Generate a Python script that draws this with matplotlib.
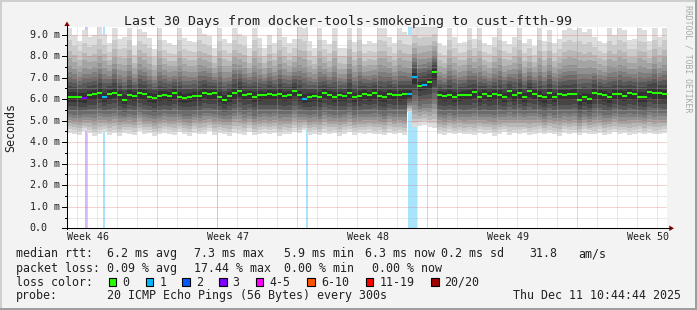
"""SmokePing 30-day latency graph (rrdtool look-alike) rebuilt with matplotlib."""

import numpy as np
import matplotlib

matplotlib.use("Agg")
import matplotlib.pyplot as plt
from matplotlib.lines import Line2D
from matplotlib.patches import Polygon, Rectangle

W, H = 697, 310
MONO = "DejaVu Sans Mono"

# --- data -----------------------------------------------------------------
STEP = 0.25  # days per column (6 h)
MEDIAN = [
    6.12, 6.12, 6.10, 6.05, 6.20, 6.25, 6.30, 6.10, 6.25, 6.30, 6.20, 5.97, 6.20, 6.15, 6.28, 6.22, 6.10, 6.07, 6.15, 6.20,
    6.15, 6.30, 6.12, 6.05, 6.10, 6.15, 6.15, 6.30, 6.22, 6.28, 6.10, 5.98, 6.15, 6.27, 6.38, 6.20, 6.25, 6.12, 6.18, 6.20,
    6.22, 6.20, 6.25, 6.15, 6.20, 6.40, 6.18, 6.02, 6.10, 6.15, 6.12, 6.30, 6.20, 6.10, 6.18, 6.15, 6.30, 6.12, 6.15, 6.25,
    6.18, 6.30, 6.15, 6.10, 6.25, 6.20, 6.18, 6.22, 6.22, 7.05, 6.62, 6.68, 6.78, 7.25, 6.20, 6.15, 6.20, 6.12, 6.18, 6.20,
    6.20, 6.35, 6.12, 6.25, 6.15, 6.22, 6.20, 6.12, 6.38, 6.18, 6.28, 6.12, 6.38, 6.25, 6.15, 6.08, 6.28, 6.12, 6.25, 6.20,
    6.22, 6.25, 5.95, 6.10, 6.02, 6.30, 6.25, 6.20, 6.08, 6.25, 6.22, 6.15, 6.30, 6.22, 6.10, 6.10, 6.35, 6.30, 6.28, 6.22,
]
TOP = [  # slowest of the 20 pings
    9.30, 9.00, 8.70, 9.20, 8.90, 9.00, 9.35, 9.05, 8.60, 9.30, 8.80, 8.90, 9.30, 8.45, 9.25, 9.10, 8.85, 8.35, 9.30, 8.75,
    8.60, 8.50, 9.30, 8.85, 8.70, 8.65, 9.30, 9.05, 8.95, 8.40, 9.30, 8.80, 8.60, 9.30, 9.05, 8.95, 8.40, 9.30, 8.85, 8.40,
    9.00, 8.60, 9.30, 8.90, 8.60, 8.80, 9.35, 9.30, 8.70, 8.40, 9.30, 8.75, 8.55, 9.30, 8.40, 8.40, 9.30, 8.65, 9.30, 8.55,
    8.70, 8.60, 9.30, 9.30, 8.90, 8.60, 9.30, 9.10, 9.00, 9.40, 9.35, 9.35, 9.35, 9.40, 8.60, 8.45, 9.30, 8.90, 8.60, 8.65,
    9.30, 8.80, 9.30, 8.60, 8.50, 8.90, 9.30, 8.70, 8.55, 8.90, 9.30, 8.60, 8.80, 8.45, 9.30, 8.70, 9.20, 8.60, 8.80, 9.20,
    9.30, 9.20, 9.30, 9.10, 9.25, 8.90, 8.70, 8.60, 9.30, 9.00, 9.30, 9.20, 8.75, 8.80, 9.30, 9.20, 8.70, 9.30, 8.90, 9.30,
]
BOTTOM = [  # fastest of the 20 pings
    4.45, 4.40, 4.35, 4.50, 4.42, 4.30, 4.38, 4.48, 4.35, 4.42, 4.30, 4.45, 4.40, 4.33, 4.50, 4.38, 4.42, 4.30, 4.36, 4.45,
    4.40, 4.32, 4.46, 4.38, 4.30, 4.44, 4.36, 4.40, 4.50, 4.33, 4.42, 4.38, 4.30, 4.45, 4.40, 4.35, 4.48, 4.32, 4.40, 4.44,
    4.38, 4.45, 4.30, 4.40, 4.36, 4.48, 4.42, 4.55, 4.35, 4.40, 4.32, 4.45, 4.38, 4.42, 4.30, 4.40, 4.46, 4.35, 4.42, 4.38,
    4.44, 4.36, 4.40, 4.32, 4.45, 4.38, 4.42, 4.35, 5.40, 4.70, 4.75, 4.80, 4.70, 4.65, 4.40, 4.35, 4.44, 4.38, 4.42, 4.36,
    4.40, 4.34, 4.45, 4.38, 4.42, 4.30, 4.40, 4.46, 4.35, 4.42, 4.38, 4.44, 4.32, 4.40, 4.45, 4.36, 4.42, 4.38, 4.30, 4.44,
    4.38, 4.42, 4.35, 4.45, 4.40, 4.36, 4.44, 4.32, 4.40, 4.46, 4.38, 4.42, 4.35, 4.40, 4.45, 4.38, 4.42, 4.36, 4.40, 4.44,
]
LOSS_COLS = [3, 7, 47, 68, 69, 71]   # columns whose median had lost pings
LOSS_PINGS = [3, 1, 1, 1, 1, 1]

# loss background bars (days from graph start)
BAR_START = [0.90, 0.975, 1.80, 7.50, 11.93, 17.05, 18.00]
BAR_END = [0.975, 1.05, 1.90, 7.55, 12.03, 17.50, 18.05]
BAR_PINGS = [3, 1, 1, 1, 1, 1, 1]

WEEK_TICKS = [1.05, 8.05, 15.05, 22.05, 29.05]
WEEK_LABELS = ["Week 46", "Week 47", "Week 48", "Week 49", "Week 50"]

LEGEND_LABELS = ["0", "1", "2", "3", "4-5", "6-10", "11-19", "20/20"]
LEGEND_COLORS = ["#26ff00", "#00b8ff", "#0059ff", "#7e00ff", "#ff00ff", "#ff5500", "#ff0000", "#a10000"]

# --- style ----------------------------------------------------------------
X0, X1, Y0, Y1 = 67, 667, 228.3, 27.3     # canvas in pixels
YMAX = 9.34
UP_FRAC = [0.07, 0.15, 0.22, 0.29, 0.36, 0.45, 0.56, 0.67, 0.82, 1.0]
DN_FRAC = [0.14, 0.26, 0.37, 0.49, 0.57, 0.66, 0.74, 0.83, 0.91, 1.0]
BAR_COLORS = {1: "#a8e4fc", 3: "#d8b6fa"}


def loss_color(n):
    if n == 0:
        return LEGEND_COLORS[0]
    if n <= 3:
        return LEGEND_COLORS[n]
    if n <= 5:
        return LEGEND_COLORS[4]
    if n <= 10:
        return LEGEND_COLORS[5]
    if n <= 19:
        return LEGEND_COLORS[6]
    return LEGEND_COLORS[7]


def fx(px):
    return px / W


def fy(py):
    return 1 - py / H


fig = plt.figure(figsize=(W / 100, H / 100), dpi=100, facecolor="#f3f3f3")

# 3d-ish frame
fig.add_artist(Rectangle((0, fy(2)), 1, 2 / H, transform=fig.transFigure, color="#cfcfcf", lw=0))
fig.add_artist(Rectangle((0, 0), 2 / W, 1, transform=fig.transFigure, color="#cfcfcf", lw=0))
fig.add_artist(Rectangle((0, 0), 1, 2 / H, transform=fig.transFigure, color="#9e9e9e", lw=0))
fig.add_artist(Rectangle((fx(W - 2), 0), 2 / W, 1, transform=fig.transFigure, color="#9e9e9e", lw=0))

ax = fig.add_axes([fx(X0), fy(Y0), (X1 - X0) / W, (Y0 - Y1) / H])
ax.set_xlim(0, 30)
ax.set_ylim(0, YMAX)
ax.set_facecolor("white")
for s in ax.spines.values():
    s.set_visible(False)
ax.set_xticks([])
ax.set_yticks([])

med = np.array(MEDIAN)
top = np.array(TOP)
bot = np.array(BOTTOM)
loss = np.zeros(len(med), dtype=int)
loss[LOSS_COLS] = LOSS_PINGS
edges = np.arange(len(med) + 1) * STEP


def ext(a):
    return np.append(a, a[-1])


# loss bars behind the smoke
for s, e, n in zip(BAR_START, BAR_END, BAR_PINGS):
    ax.axvspan(s, e, color=BAR_COLORS[n], lw=0, zorder=1)

# smoke: nested bands, lightest outside, darkest around the median
for i in range(10):
    g = (int(190 / 10 * (9 - i)) + 50) / 255
    lo = med - (med - bot) * DN_FRAC[9 - i]
    hi = med + (top - med) * UP_FRAC[9 - i]
    ax.fill_between(edges, ext(lo), ext(hi), step="post", color=(g, g, g),
                    lw=0, antialiased=False, zorder=2)

# grid over the smoke
dots = (0, (1, 1))
for v in np.arange(0.5, YMAX, 1.0):
    ax.axhline(v, color="#b8b8b8", alpha=0.6, lw=0.72, ls=dots, zorder=3)
for v in range(1, 10):
    ax.axhline(v, color="#e06060", alpha=0.55, lw=0.72, ls=dots, zorder=3)
for d in np.arange(0.5, 30, 1.0):
    major = (d - 4.5) % 7 == 0
    ax.axvline(d, color="#e06060" if major else "#b8b8b8", alpha=0.55 if major else 0.6,
               lw=0.72, ls=dots, zorder=3)

# median, coloured by loss
ax.hlines(med, edges[:-1], edges[1:], colors=[loss_color(n) for n in loss], lw=1.5, zorder=4)

# axes with rrdtool arrows
fig.add_artist(Line2D([fx(X0), fx(X0)], [fy(Y0 + 0.5), fy(25)], transform=fig.transFigure,
                      color="black", lw=0.75))
fig.add_artist(Line2D([fx(62.5), fx(670)], [fy(Y0), fy(Y0)], transform=fig.transFigure,
                      color="black", lw=0.75))
fig.add_artist(Polygon([(fx(64.3), fy(26)), (fx(69.7), fy(26)), (fx(67), fy(21.5))],
                       transform=fig.transFigure, color="#8b0000", lw=0))
fig.add_artist(Polygon([(fx(669.3), fy(225.5)), (fx(669.3), fy(231)), (fx(674), fy(228.3))],
                       transform=fig.transFigure, color="#8b0000", lw=0))

# y tick marks and labels
ytr = ax.get_yaxis_transform()
for v in range(10):
    ax.plot([-5 / 600, 0], [v, v], transform=ytr, color="black", lw=0.72, clip_on=False, zorder=5)
    ax.text(-(X0 - 29.5) / 600, v, "0.0" if v == 0 else f"{v}.0 m", transform=ytr,
            ha="left", va="center", family=MONO, fontsize=7.2, color="#222222")
for v in np.arange(0.5, YMAX, 1.0):
    ax.plot([-2 / 600, 0], [v, v], transform=ytr, color="black", lw=0.72, clip_on=False, zorder=5)

xtr = ax.get_xaxis_transform()
for d, lab in zip(WEEK_TICKS, WEEK_LABELS):
    ax.text(d, -(237.3 - Y0) / (Y0 - Y1), lab, transform=xtr, ha="center", va="center",
            family=MONO, fontsize=7.2, color="#222222")

# titles
fig.text(0.5, fy(24.5), "Last 30 Days from docker-tools-smokeping to cust-ftth-99",
         ha="center", va="baseline", family=MONO, fontsize=9.55, color="#222222")
fig.text(fx(10.5), fy(Y0 - (Y0 - Y1) / 2), "Seconds", rotation=90, ha="center", va="center",
         family=MONO, fontsize=8.4, color="#222222")
fig.text(fx(688), fy(59), "RRDTOOL / TOBI OETIKER", rotation=-90, ha="center", va="center",
         family=MONO, fontsize=5.9, color="#a8a8a8")

# legend
LEG = dict(family=MONO, fontsize=8.4, color="#222222", ha="left", va="baseline")
rows = [
    (257.3, [(16, "median rtt:"), (107, "6.2 ms avg"), (194, "7.3 ms max"), (284.5, "5.9 ms min"),
             (364.6, "6.3 ms now"), (441.3, "0.2 ms sd"), (529.6, "31.8"), (578.6, "am/s")]),
    (271.7, [(16, "packet loss:"), (107, "0.09 % avg"), (194, "17.44 % max"),
             (284.5, "0.00 % min"), (372.3, "0.00 % now")]),
    (299.3, [(16, "probe:"), (107, "20 ICMP Echo Pings (56 Bytes) every 300s"),
             (513, "Thu Dec 11 10:44:44 2025")]),
]
for yb, items in rows:
    for xp, t in items:
        fig.text(fx(xp), fy(yb), t, **LEG)

fig.text(fx(16), fy(285.7), "loss color:", **LEG)
box_x = [108.7, 145.7, 182.3, 219, 255.7, 307.3, 365.7, 431]
for bx, lab, col in zip(box_x, LEGEND_LABELS, LEGEND_COLORS):
    fig.add_artist(Rectangle((fx(bx), fy(285.7)), 7.5 / W, 8 / H, transform=fig.transFigure,
                             facecolor=col, edgecolor="black", lw=0.8))
    fig.text(fx(bx + 13.5), fy(285.7), lab, **LEG)

fig.savefig("out.png", dpi=100, facecolor=fig.get_facecolor())
